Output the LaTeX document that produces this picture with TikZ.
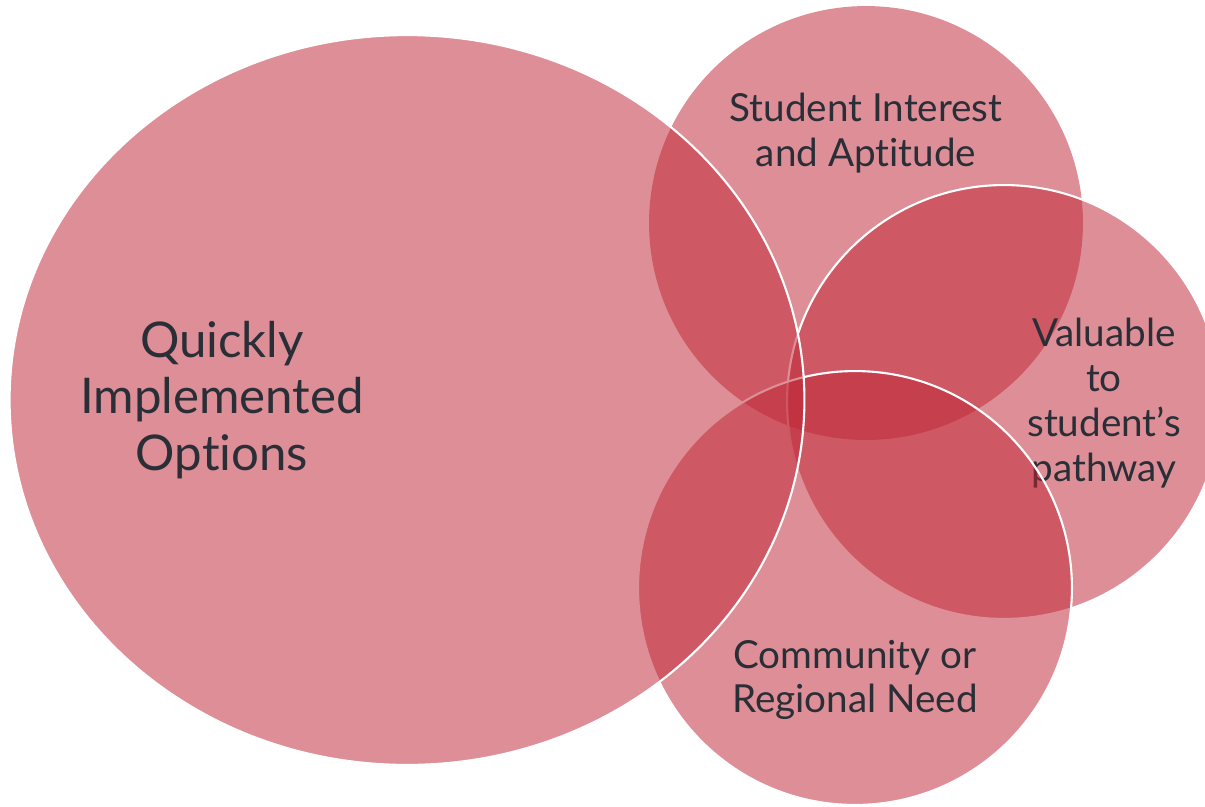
\documentclass[tikz,border=0pt]{standalone}
\usepackage{fontspec}
\setmainfont{Lato}[Ligatures={NoCommon,NoRare}]
\usetikzlibrary{shapes.geometric}
\definecolor{vennred}{RGB}{191,39,54}
\definecolor{labelgray}{RGB}{42,46,54}

\begin{document}
\begin{tikzpicture}[x=0.02cm, y=-0.02cm, venn/.style={circle, fill=vennred, fill opacity=0.52, minimum size=8.68cm, inner sep=0pt}, rim/.style={draw=white, line width=1.2pt}, lbl/.style={text=labelgray, align=center, font=\fontsize{22}{25.5}\selectfont}]

  \useasboundingbox (0,0) rectangle (1205,806);

  \node[venn] (interest) at (866,223) {};
  \node[lbl] (interesttxt) at (866,133) {Student Interest\\and Aptitude};

  \node[venn, rim] (pathway) at (1004,402) {};
  \node[lbl] (pathwaytxt) at (1104,403) {Valuable\\to\\student’s\\pathway};

  \node[venn, rim] (need) at (855,588) {};
  \node[lbl] (needtxt) at (855,680) {Community or\\Regional Need};

  \node[venn, rim, ellipse, minimum width=15.9cm, minimum height=14.6cm] (quick) at (407,400) {};
  \node[lbl, font=\fontsize{28}{32}\selectfont] (quicktxt) at (222,400) {Quickly\\Implemented\\Options};
\end{tikzpicture}
\end{document}
